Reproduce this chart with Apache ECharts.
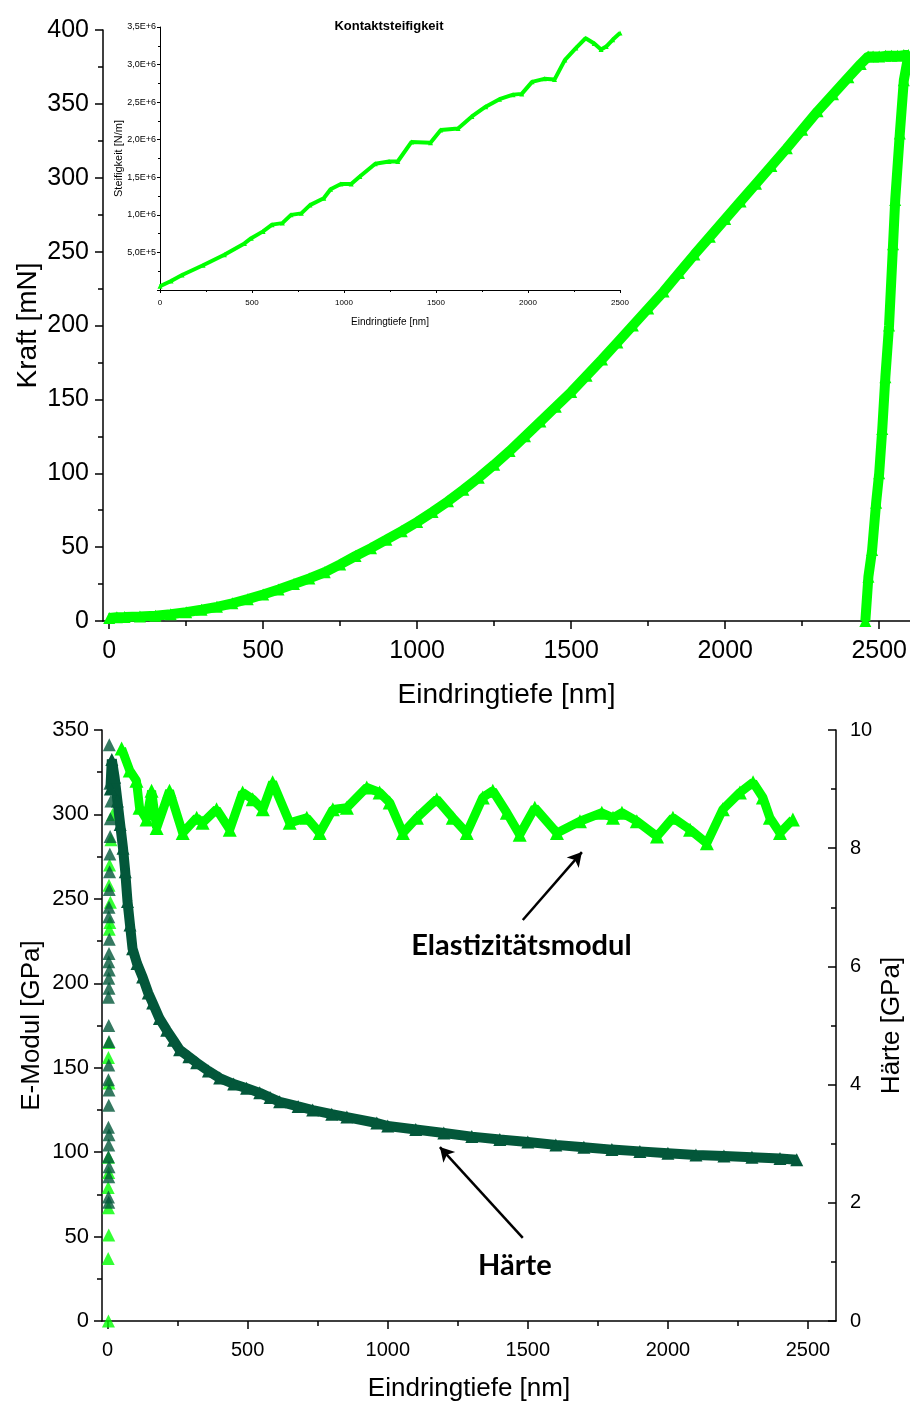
<!DOCTYPE html>
<html><head><meta charset="utf-8">
<script src="https://cdn.jsdelivr.net/npm/echarts@6/dist/echarts.min.js"></script>
<style>html,body{margin:0;padding:0;background:#fff;} #c{width:910px;height:1401px;}</style>
</head><body><div id="c"></div>
<script>
// ---------- DATA ----------
// Top chart: load (loading, hold, unloading) vs depth
const loadDepth = [0,25,50,100,150,200,250,300,350,400,450,500,550,600,650,700,750,800,850,900,950,1000,1050,1100,1150,1200,1250,1300,1350,1400,1450,1500,1550,1600,1650,1700,1750,1800,1850,1900,1950,2000,2050,2100,2150,2200,2250,2300,2350,2400,2440,2464,
  2480,2500,2520,2540,2560,2580,2595,
  2580,2567,2552,2545,2532,2520,2510,2500,2490,2477,2465,2455];
const loadForce = [2,2.6,2.7,3,3.6,4.6,5.9,7.6,9.6,12,14.8,18,21.3,25,28.8,33,38.3,44,49.3,55,60.8,67,73.8,81,88.8,97,105.8,115,125,135,145,155,166,177,188.5,200,211.5,223,235.5,248,260,272,284,296,308,320,332.5,345,356.5,368,377,382,
  382,382,382.5,382.5,382.5,383,383,
  366,330,285,255,200,165,130,100,80,48,30,0];

// Inset: contact stiffness vs depth
const stiffDepth = [0,60,120,234,350,459,496,560,609,665,712,768,815,890,927,983,1039,1086,1170,1245,1292,1367,1470,1526,1620,1695,1770,1845,1919,1966,2022,2088,2144,2200,2260,2313,2360,2397,2425,2460,2500];
const stiffValue = [0.05e6,0.12e6,0.2e6,0.33e6,0.47e6,0.62e6,0.69e6,0.78e6,0.87e6,0.89e6,1.0e6,1.02e6,1.13e6,1.22e6,1.34e6,1.41e6,1.41e6,1.51e6,1.68e6,1.71e6,1.71e6,1.97e6,1.96e6,2.13e6,2.15e6,2.31e6,2.44e6,2.54e6,2.6e6,2.61e6,2.77e6,2.81e6,2.8e6,3.06e6,3.22e6,3.35e6,3.28e6,3.2e6,3.24e6,3.33e6,3.42e6];

// Bottom chart: E-Modul (GPa) vs depth
const eDepth = [50,79,103,114,139,157,175,221,268,318,339,389,436,482,518,554,589,650,711,757,804,854,925,971,1007,1054,1104,1175,1232,1282,1339,1375,1425,1471,1525,1604,1686,1764,1804,1836,1889,1961,2018,2079,2139,2196,2257,2304,2339,2364,2400,2446];
const eValue = [339,326,320,304,297,314,292,314,289,298,295,303,291,313,309,303,319,295,298,289,303,304,316,313,307,289,298,309,298,289,310,314,301,288,304,289,296,301,298,301,296,287,298,291,283,303,313,319,310,298,289,297];
// E-Modul scattered start points (shallow depth)
const eStartDepth = [3,2,4,3,2,4,3,5,3,4,6,8,10,5,7,12,18];
const eStartValue = [0,37,51,67,79,88,97,141,156,165,232,236,248,258,270,285,300];

// Härte (GPa) vs depth
const hDepth = [10,15,25,35,45,55,63,71,80,89,105,125,145,161,185,211,235,257,290,318,360,400,450,496,543,580,614,680,732,800,854,961,1000,1100,1200,1300,1400,1500,1600,1700,1800,1900,2000,2100,2200,2300,2400,2460];
const hValue = [9.0,9.5,9.2,8.8,8.4,8.0,7.6,7.1,6.7,6.3,6.05,5.82,5.55,5.38,5.12,4.92,4.75,4.59,4.47,4.37,4.23,4.11,4.01,3.94,3.86,3.78,3.71,3.63,3.57,3.5,3.45,3.35,3.3,3.24,3.18,3.12,3.07,3.03,2.98,2.94,2.9,2.87,2.84,2.81,2.79,2.77,2.75,2.73];
const hStartDepth = [4,3,4,5,3,4,5,3,4,5,3,4,5,4,3,5,4,6,4,5,6,4,5,6,7,8,9,10,12,8,6];
const hStartValue = [2.01,2.1,2.44,2.61,2.78,2.98,3.15,3.28,3.65,3.91,4.08,4.33,4.73,5.0,5.48,5.63,5.8,5.94,6.08,6.22,6.46,6.84,7.0,7.3,7.6,7.9,8.2,8.5,8.8,9.1,9.75];

// Tick label values
const depthTicks = [0,500,1000,1500,2000,2500];
const depthMinorTicks = [250,750,1250,1750,2250];

// Annotations (in data coordinates of bottom chart: depth nm, E-Modul GPa)
const annElastArrow = [[1482,237.5],[1693,277.7]];
const annHaerteArrow = [[1482,49.2],[1186,103]];
const annElastText = ['Elastizitätsmodul',[1477,222]];
const annHaerteText = ['Härte',[1454,32.6]];

// ---------- CHART ----------
const zip = (a,b) => a.map((v,i)=>[v,b[i]]);
const FONT = "'Liberation Sans', Arial, sans-serif";
const LIME = '#00ff00', DARK = '#03573a';
const axLine = {show:true, onZero:false, lineStyle:{color:'#000', width:1.5}};
const plain = v => String(v);
function sci(v){ if(v===0) return ''; const e=Math.floor(Math.log10(v)+1e-9); const m=v/Math.pow(10,e); return m.toFixed(1).replace('.',',')+'E+'+e; }

const chart = echarts.init(document.getElementById('c'), null, {renderer:'canvas'});
chart.setOption({
  animation:false,
  backgroundColor:'#fff',
  textStyle:{fontFamily:FONT},
  title:{text:'Kontaktsteifigkeit', left:384, top:15, textAlign:'center',
    textStyle:{fontSize:13, fontWeight:'bold', color:'#000', fontFamily:FONT}},
  grid:[
    {left:103, right:0, top:30, bottom:780, outerBoundsMode:'none'},
    {left:102, right:74, top:730, bottom:80, outerBoundsMode:'none'},
    {left:160, width:460, top:27, height:263, outerBoundsMode:'none'}
  ],
  xAxis:[
    {gridIndex:0, type:'value', position:'bottom', min:-20, max:2600, splitLine:{show:false}, axisLine:axLine,
     axisTick:{show:true, customValues:depthTicks, length:8, lineStyle:{color:'#000', width:1.5}},
     axisLabel:{customValues:depthTicks, formatter:plain, fontSize:25, color:'#000', margin:18},
     name:'Eindringtiefe [nm]', nameLocation:'middle', nameGap:60, nameMoveOverlap:false, nameTextStyle:{fontSize:28, color:'#000'}},
    {gridIndex:0, type:'value', position:'bottom', min:-20, max:2600, splitLine:{show:false}, axisLine:{show:false, onZero:false},
     axisTick:{show:true, customValues:depthMinorTicks, length:5, lineStyle:{color:'#000', width:1.5}},
     axisLabel:{show:false}},
    {gridIndex:1, type:'value', position:'bottom', min:-20, max:2600, splitLine:{show:false}, axisLine:axLine,
     axisTick:{show:true, customValues:depthTicks, length:8, lineStyle:{color:'#000', width:1.5}},
     axisLabel:{customValues:depthTicks, formatter:plain, fontSize:20, color:'#000', margin:19},
     name:'Eindringtiefe [nm]', nameLocation:'middle', nameGap:55, nameMoveOverlap:false, nameTextStyle:{fontSize:26, color:'#000'}},
    {gridIndex:1, type:'value', position:'bottom', min:-20, max:2600, splitLine:{show:false}, axisLine:{show:false, onZero:false},
     axisTick:{show:true, customValues:depthMinorTicks, length:5, lineStyle:{color:'#000', width:1.5}},
     axisLabel:{show:false}},
    {gridIndex:2, type:'value', position:'bottom', min:0, max:2500, interval:500, splitLine:{show:false},
     axisLine:{show:true, onZero:false, lineStyle:{color:'#000', width:1}},
     axisTick:{show:true, length:3, lineStyle:{color:'#000', width:1}},
     minorTick:{show:true, splitNumber:2, length:2, lineStyle:{color:'#000', width:1}},
     axisLabel:{fontSize:8, color:'#000', margin:9, formatter:plain},
     name:'Eindringtiefe [nm]', nameLocation:'middle', nameGap:27, nameMoveOverlap:false, nameTextStyle:{fontSize:10, color:'#000'}}
  ],
  yAxis:[
    {gridIndex:0, type:'value', min:0, max:400, interval:50, splitLine:{show:false}, axisLine:axLine,
     axisTick:{show:true, length:8, lineStyle:{color:'#000', width:1.5}},
     minorTick:{show:true, splitNumber:2, length:5, lineStyle:{color:'#000', width:1.5}},
     axisLabel:{fontSize:25, color:'#000', margin:14, formatter:plain},
     name:'Kraft [mN]', nameLocation:'middle', nameGap:61, nameMoveOverlap:false, nameRotate:90, nameTextStyle:{fontSize:28, color:'#000'}},
    {gridIndex:1, type:'value', min:0, max:350, interval:50, splitLine:{show:false}, axisLine:axLine,
     axisTick:{show:true, length:8, lineStyle:{color:'#000', width:1.5}},
     minorTick:{show:true, splitNumber:2, length:5, lineStyle:{color:'#000', width:1.5}},
     axisLabel:{fontSize:22, color:'#000', margin:13, formatter:plain},
     name:'E-Modul [GPa]', nameLocation:'middle', nameGap:57, nameMoveOverlap:false, nameRotate:90, nameTextStyle:{fontSize:26, color:'#000'}},
    {gridIndex:1, type:'value', position:'right', min:0, max:10, interval:2, splitLine:{show:false}, axisLine:axLine,
     axisTick:{show:true, inside:true, length:8, lineStyle:{color:'#000', width:1.5}},
     minorTick:{show:true, splitNumber:2, length:5, lineStyle:{color:'#000', width:1.5}},
     axisLabel:{fontSize:20, color:'#000', margin:14, formatter:plain},
     name:'Härte [GPa]', nameLocation:'middle', nameGap:43, nameMoveOverlap:false, nameRotate:90, nameTextStyle:{fontSize:26, color:'#000'}},
    {gridIndex:2, type:'value', min:0, max:3.5e6, interval:5e5, splitLine:{show:false},
     axisLine:{show:true, onZero:false, lineStyle:{color:'#000', width:1}},
     axisTick:{show:true, length:3, lineStyle:{color:'#000', width:1}},
     minorTick:{show:true, splitNumber:2, length:2, lineStyle:{color:'#000', width:1}},
     axisLabel:{fontSize:9, color:'#000', margin:4, formatter:sci},
     name:'Steifigkeit [N/m]', nameLocation:'middle', nameGap:36, nameMoveOverlap:false, nameRotate:90, nameTextStyle:{fontSize:11, color:'#000'}}
  ],
  series:[
    {name:'Kraft', type:'line', xAxisIndex:0, yAxisIndex:0, data:zip(loadDepth, loadForce),
     symbol:'triangle', symbolSize:12, showAllSymbol:true,
     lineStyle:{color:LIME, width:10}, itemStyle:{color:LIME}},
    {name:'Steifigkeit', type:'line', xAxisIndex:4, yAxisIndex:3, data:zip(stiffDepth, stiffValue),
     symbol:'triangle', symbolSize:5, showAllSymbol:true,
     lineStyle:{color:LIME, width:4}, itemStyle:{color:LIME}},
    {name:'E-Modul', type:'line', xAxisIndex:2, yAxisIndex:1, data:zip(eDepth, eValue),
     symbol:'triangle', symbolSize:14, showAllSymbol:true,
     lineStyle:{color:LIME, width:9}, itemStyle:{color:LIME},
     markLine:{silent:true, symbol:['none','arrow'], symbolSize:[12,14], label:{show:false},
       lineStyle:{color:'#000', width:2.5, type:'solid'},
       data:[[{coord:annElastArrow[0]},{coord:annElastArrow[1]}],[{coord:annHaerteArrow[0]},{coord:annHaerteArrow[1]}]]},
     markPoint:{silent:true, symbol:'circle', symbolSize:0,
       label:{show:true, position:'inside', color:'#000', fontWeight:'bold', fontSize:29, fontFamily:"Lato, 'Open Sans', sans-serif"},
       data:[{coord:annElastText[1], label:{formatter:annElastText[0]}},{coord:annHaerteText[1], label:{formatter:annHaerteText[0]}}]}},
    {name:'E-Modul Start', type:'scatter', xAxisIndex:2, yAxisIndex:1, data:zip(eStartDepth, eStartValue),
     symbol:'triangle', symbolSize:13, itemStyle:{color:LIME}},
    {name:'Härte', type:'line', xAxisIndex:2, yAxisIndex:2, data:zip(hDepth, hValue),
     symbol:'triangle', symbolSize:13, showAllSymbol:true,
     lineStyle:{color:DARK, width:10}, itemStyle:{color:DARK}},
    {name:'Härte Start', type:'scatter', xAxisIndex:2, yAxisIndex:2, data:zip(hStartDepth, hStartValue),
     symbol:'triangle', symbolSize:13, itemStyle:{color:DARK}}
  ]
});
</script>
</body></html>
